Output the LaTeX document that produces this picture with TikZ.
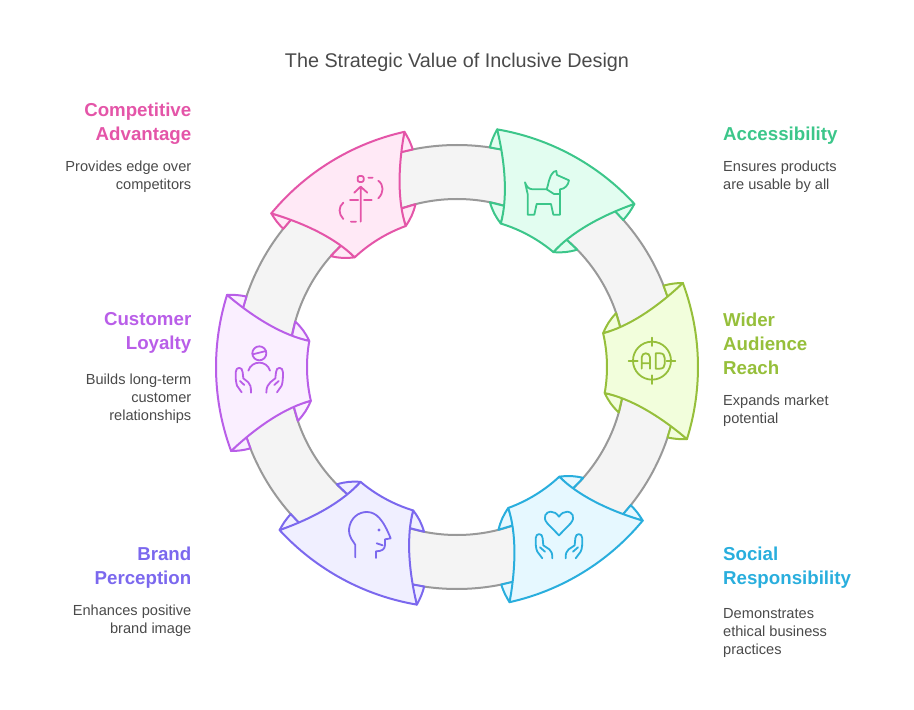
\documentclass[tikz,border=0pt]{standalone}
\usepackage{fontspec}
\setmainfont{Liberation Sans}
\usetikzlibrary{positioning}
\definecolor{inkgray}{HTML}{4A4A4A}
\definecolor{ringgray}{HTML}{999999}
\definecolor{ringfill}{HTML}{F4F4F4}
\definecolor{accessline}{HTML}{3CC68A}
\definecolor{accessfill}{HTML}{E2FDF0}
\definecolor{reachline}{HTML}{96BF3B}
\definecolor{reachfill}{HTML}{F2FEDC}
\definecolor{socialline}{HTML}{29AEDD}
\definecolor{socialfill}{HTML}{E6F8FF}
\definecolor{brandline}{HTML}{7B68EE}
\definecolor{brandfill}{HTML}{F0EFFF}
\definecolor{loyalline}{HTML}{B95EE8}
\definecolor{loyalfill}{HTML}{FAEFFF}
\definecolor{edgeline}{HTML}{E455A8}
\definecolor{edgefill}{HTML}{FFE9F6}
\tikzset{
 heading/.style={font=\bfseries\fontsize{18.7}{24}\selectfont, inner sep=0pt},
 blurb/.style={font=\fontsize{14.6}{18}\selectfont, text=inkgray, inner sep=0pt},
 icon/.style={line width=1.8pt, line cap=round, line join=round},
 zoomed/.style={x=0.3333pt, y=-0.3333pt}
}
\newcommand{\petal}[3]{
\begin{scope}[rotate=#1]
\filldraw[#2, fill=#3, line width=2pt, line join=round] (18.9:241) to[bend right=7] (20:222) -- (16.6:222) -- cycle;
\filldraw[#2, fill=#3, line width=2pt, line join=round] (11.5:150) to[bend left=10] (17.2:168) -- (11.8:168) -- cycle;
\filldraw[#2, fill=#3, line width=2pt, line join=round] (-18.9:241) to[bend left=7] (-20:222) -- (-16.6:222) -- cycle;
\filldraw[#2, fill=#3, line width=2pt, line join=round] (-11.5:150) to[bend right=10] (-17.2:168) -- (-11.8:168) -- cycle;
\filldraw[#2, fill=#3, line width=2pt, line join=round] (-18.9:241) arc[start angle=-18.9, end angle=18.9, radius=241] .. controls (200,53) and (172,36) .. (11.5:150) arc[start angle=11.5, end angle=-11.5, radius=150] .. controls (172,-36) and (200,-53) .. cycle;
\end{scope}
}

\begin{document}
\begin{tikzpicture}[x=1pt, y=1pt]
\useasboundingbox (-457,-343) rectangle (457,367);

% ring
\fill[ringfill, even odd rule] (0,0) circle[radius=222] (0,0) circle[radius=168];
\draw[ringgray, line width=2pt] (0,0) circle[radius=222];
\draw[ringgray, line width=2pt] (0,0) circle[radius=168];

\petal{61.5}{accessline}{accessfill}
\petal{1.5}{reachline}{reachfill}
\petal{-58.5}{socialline}{socialfill}
\petal{-118.5}{brandline}{brandfill}
\petal{-178.5}{loyalline}{loyalfill}
\petal{121.5}{edgeline}{edgefill}

% dog
\begin{scope}[shift={(23,247)}, zoomed]
\draw[accessline, icon] (135,187) .. controls (140,200) and (145,207) .. (158,208) -- (200,208) .. controls (206,195) and (205,170) .. (222,155) -- (229,153) -- (231,165) -- (267,181) .. controls (265,195) and (255,207) .. (240,208) -- (240,284) -- (220,284) -- (213,252) -- (170,252) -- (163,284) -- (143,284) -- (143,222) -- (135,187);
\draw[accessline, icon] (200,208) -- (222,222) -- (240,222);
\end{scope}

% target
\begin{scope}[shift={(103,97)}, zoomed]
\draw[reachline, icon] (276,272) circle[radius=57];
\draw[reachline, icon] (276,203) -- (276,228) (276,316) -- (276,342) (206,272) -- (233,272) (320,272) -- (346,272);
\draw[reachline, icon] (245,296) -- (245,262) .. controls (245,246) and (270,246) .. (270,262) -- (270,296) (245,280) -- (270,280);
\draw[reachline, icon] (287,250) -- (287,296) -- (300,296) .. controls (310,296) and (314,290) .. (314,282) -- (314,264) .. controls (314,256) and (310,250) .. (300,250) -- (287,250);
\end{scope}

% heart and hands
\begin{scope}[shift={(33,-93)}, zoomed]
\draw[socialline, icon] (207,226) -- (172,190) .. controls (155,170) and (170,155) .. (182,155) .. controls (192,155) and (200,160) .. (207,170) .. controls (214,160) and (222,155) .. (232,155) .. controls (244,155) and (259,170) .. (242,190) -- cycle;
\draw[socialline, icon] (157,295) -- (142,275) .. controls (137,265) and (137,250) .. (137,235) .. controls (137,218) and (158,218) .. (158,235) -- (160,256) -- (178,268) .. controls (185,274) and (187,280) .. (187,295);
\draw[socialline, icon] (150,262) -- (165,275);
\draw[socialline, icon] (257,295) -- (272,275) .. controls (277,265) and (277,250) .. (277,235) .. controls (277,218) and (256,218) .. (256,235) -- (254,256) -- (236,268) .. controls (229,274) and (227,280) .. (227,295);
\draw[socialline, icon] (264,262) -- (249,275);
\end{scope}

% head
\begin{scope}[shift={(-187,-103)}, zoomed]
\draw[brandline, icon] (256,262) -- (256,225) .. controls (250,212) and (237,205) .. (237,178) .. controls (240,145) and (265,125) .. (292,126) .. controls (320,127) and (340,150) .. (362,205) -- (345,208) -- (345,225) .. controls (345,238) and (335,244) .. (318,244) -- (318,264);
\draw[brandline, icon] (320,220) -- (338,226);
\fill[brandline] (327,180) circle[radius=5];
\end{scope}

% person in hands
\begin{scope}[shift={(-252,82)}, zoomed]
\draw[loyalline, icon] (163,205) circle[radius=21];
\draw[loyalline, icon] (143,208) -- (183,198);
\draw[loyalline, icon] (130,257) .. controls (140,225) and (186,225) .. (195,257);
\draw[loyalline, icon] (110,322) -- (96,302) .. controls (92,290) and (92,275) .. (92,262) .. controls (92,244) and (113,244) .. (113,262) -- (115,280) -- (130,292) .. controls (136,298) and (138,305) .. (138,323);
\draw[loyalline, icon] (105,288) -- (118,300);
\draw[loyalline, icon] (216,322) -- (230,302) .. controls (234,290) and (234,275) .. (234,262) .. controls (234,244) and (213,244) .. (213,262) -- (211,280) -- (196,292) .. controls (190,298) and (184,305) .. (184,323);
\draw[loyalline, icon] (221,288) -- (208,300);
\end{scope}

% arrow and dashed blobs
\begin{scope}[shift={(-197,247)}, zoomed]
\draw[edgeline, icon, rounded corners=2pt] (293,168) rectangle (311,186);
\draw[edgeline, icon] (302,305) -- (302,203) (283,218) -- (302,200) -- (322,218);
\draw[edgeline, icon] (325,173) -- (338,173) (355,182) .. controls (372,195) and (372,218) .. (355,235) (323,240) -- (335,240) (270,240) -- (295,240) (312,240) -- (323,240);
\draw[edgeline, icon] (250,248) .. controls (235,260) and (235,282) .. (250,297) (273,305) -- (288,305);
\end{scope}

% texts, in the coordinates of the page
\begin{scope}[shift={(-457,367)}, y=-1pt]
\node[font=\fontsize{19.8}{24}\selectfont, text=inkgray, inner sep=0pt] (title) at (457,62.5) {The Strategic Value of Inclusive Design};

\node[heading, text=accessline, anchor=north west, align=left] (accesshead) at (723,126.5) {Accessibility};
\node[blurb, anchor=north west, align=left] (accesstext) at (723,161) {Ensures products\\are usable by all};

\node[heading, text=reachline, anchor=north west, align=left] (reachhead) at (723,312.5) {Wider\\Audience\\Reach};
\node[blurb, anchor=north west, align=left] (reachtext) at (723,395) {Expands market\\potential};

\node[heading, text=socialline, anchor=north west, align=left] (socialhead) at (723,546.5) {Social\\Responsibility};
\node[blurb, anchor=north west, align=left] (socialtext) at (723,608.5) {Demonstrates\\ethical business\\practices};

\node[heading, text=brandline, anchor=north east, align=right] (brandhead) at (191.5,546.5) {Brand\\Perception};
\node[blurb, anchor=north east, align=right] (brandtext) at (191.5,605) {Enhances positive\\brand image};

\node[heading, text=loyalline, anchor=north east, align=right] (loyalhead) at (191.5,312.5) {Customer\\Loyalty};
\node[blurb, anchor=north east, align=right] (loyaltext) at (191.5,374) {Builds long-term\\customer\\relationships};

\node[heading, text=edgeline, anchor=north east, align=right] (edgehead) at (191.5,102.5) {Competitive\\Advantage};
\node[blurb, anchor=north east, align=right] (edgetext) at (191.5,161) {Provides edge over\\competitors};
\end{scope}

\end{tikzpicture}
\end{document}
